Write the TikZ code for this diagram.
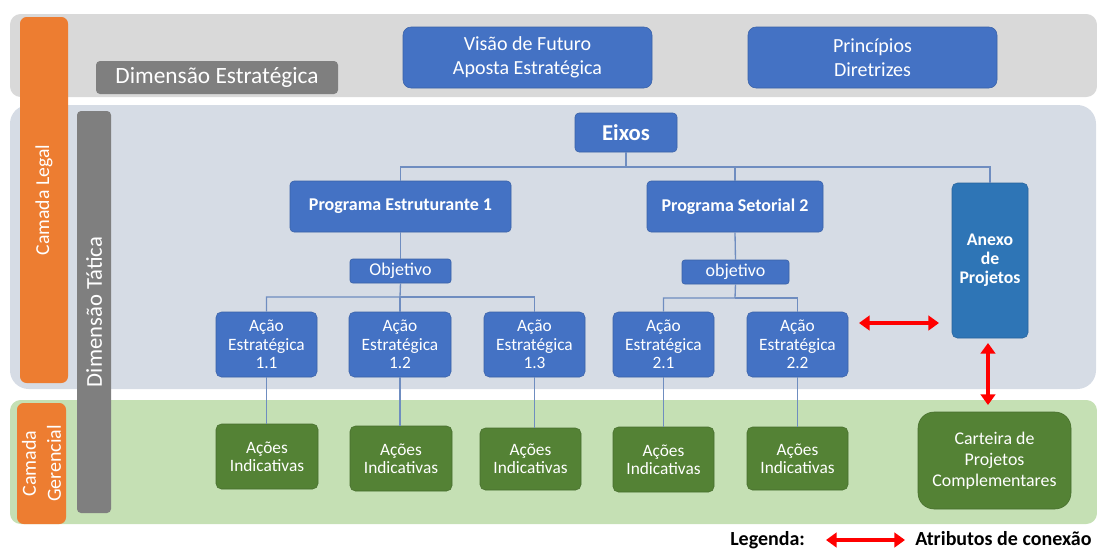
\documentclass[tikz,border=0pt]{standalone}
\usepackage{fontspec}
\setmainfont{Carlito}
\usetikzlibrary{fit,arrows.meta}
\definecolor{bandgray}{HTML}{D9D9D9}
\definecolor{bandblue}{HTML}{D6DCE5}
\definecolor{bandgreen}{HTML}{C5E0B4}
\definecolor{boxblue}{HTML}{4472C4}
\definecolor{anexoblue}{HTML}{2E75B6}
\definecolor{boxgreen}{HTML}{548235}
\definecolor{labgray}{HTML}{7F7F7F}
\definecolor{laborange}{HTML}{ED7D31}
\definecolor{linecol}{HTML}{6F8DC0}
\tikzset{
  x=0.75pt, y=-0.75pt,
  bbox/.style={fill=boxblue, draw=boxblue!85!black, line width=0.4pt, rounded corners=3pt, inner sep=0pt, text=white, align=center},
  gbox/.style={fill=boxgreen, draw=boxgreen!85!black, line width=0.4pt, rounded corners=3pt, inner sep=0pt, text=white, align=center},
  lab/.style={fill=labgray, rounded corners=3pt, inner sep=0pt, text=white, align=center},
  olab/.style={fill=laborange, rounded corners=5pt, inner sep=0pt, text=white, align=center},
  conn/.style={draw=linecol, line width=1pt},
  redarrow/.style={draw=red, line width=3.5pt, {Triangle[length=8pt,width=11pt]}-{Triangle[length=8pt,width=11pt]}},
  acao/.style={font=\fontsize{13}{14}\selectfont},
}
\begin{document}
\begin{tikzpicture}
\useasboundingbox (0,0) rectangle (1097,551);
% bands
\fill[bandgray, rounded corners=8pt] (10,14) rectangle (1097,97);
\fill[bandblue, rounded corners=14pt] (10,105) rectangle (1096,389);
\fill[bandgreen, rounded corners=8pt] (10,400) rectangle (1097,524);
% side labels
\node[olab, rotate=90, minimum width=366*0.75pt, minimum height=48*0.75pt, font=\fontsize{14.8}{17}\selectfont] (legal) at (44,200) {Camada Legal};
\node[olab, rotate=90, minimum width=121*0.75pt, minimum height=49*0.75pt, font=\fontsize{15}{18.75}\selectfont] (geren) at (41.5,463.5) {Camada\\Gerencial};
\node[lab, rotate=90, minimum width=402*0.75pt, minimum height=34*0.75pt, font=\fontsize{17}{20}\selectfont] (tatica) at (94,312) {Dimensão Tática};
\node[lab, fit={(96,61) (338,94)}] (estr) {};
\node[text=white, font=\fontsize{17.5}{20}\selectfont] at (estr.center) {Dimensão Estratégica};
% top boxes
\node[bbox, rounded corners=6pt, fit={(403,27) (652,88)}] (visao) {};
\node[text=white, align=center, font=\fontsize{15}{18}\selectfont] at (visao.center) {Visão de Futuro\\Aposta Estratégica};
\node[bbox, rounded corners=6pt, fit={(748,27) (997,88)}] (princ) {};
\node[text=white, align=center, font=\fontsize{15}{18}\selectfont] at (princ.center) {Princípios\\Diretrizes};
% tactical tree
\node[bbox, fit={(575,113) (677,152)}] (eixos) {};
\node[text=white, font=\bfseries\fontsize{17}{20}\selectfont] at (eixos.center) {Eixos};
\node[bbox, fit={(290,181) (511,232)}] (p1) {};
\node[text=white, font=\bfseries\fontsize{13.5}{16}\selectfont] at (p1.center) {Programa Estruturante 1};
\node[bbox, fit={(647,181) (823,232)}] (p2) {};
\node[text=white, font=\bfseries\fontsize{13.5}{16}\selectfont] at (p2.center) {Programa Setorial 2};
\node[fill=anexoblue, draw=anexoblue!85!black, line width=0.4pt, rounded corners=4pt, inner sep=0pt, fit={(952,183) (1028,338)}] (anexo) {};
\node[text=white, align=center, font=\bfseries\fontsize{13.3}{14.2}\selectfont] at (990,260) {Anexo\\de\\Projetos};
\node[bbox, rounded corners=2pt, fit={(350,259) (451,283)}] (obj1) {};
\node[text=white, font=\fontsize{13.5}{16}\selectfont] at (obj1.center) {Objetivo};
\node[bbox, rounded corners=2pt, fit={(682,260) (789,284)}] (obj2) {};
\node[text=white, font=\fontsize{13.5}{16}\selectfont] at (obj2.center) {objetivo};
% acoes estrategicas
\foreach \n/\xa/\xb/\t in {a11/216/317/1.1, a12/349/451/1.2, a13/484/585/1.3, a21/613/714/2.1, a22/747/848/2.2}{
  \node[bbox, rounded corners=4pt, fit={(\xa,312) (\xb,377)}] (\n) {};
  \node[text=white, align=center, acao] at (\n.center) {Ação\\Estratégica\\\t};
}
% acoes indicativas
\foreach \n/\xa/\xb/\ya/\yb in {i11/216/318/424/489, i12/350/452/426/491, i13/480/581/428/490, i21/613/714/427/492, i22/747/848/427/490}{
  \node[gbox, rounded corners=4pt, fit={(\xa,\ya) (\xb,\yb)}] (\n) {};
  \node[text=white, align=center, font=\fontsize{13}{13.8}\selectfont] at (\n.center) {Ações\\Indicativas};
}
\node[gbox, rounded corners=12pt, fit={(918,412) (1071,509)}] (cart) {};
\node[text=white, align=center, font=\fontsize{13.4}{15.75}\selectfont] at (cart.center) {Carteira de\\Projetos\\Complementares};
% connectors
\coordinate (busE) at (626,167);
\draw[conn] (eixos.south) -- (busE) -| (p1.north);
\draw[conn] (busE) -| (p2.north);
\draw[conn] (busE) -| (anexo.north);
\draw[conn] (p1.south) -- (obj1.north);
\draw[conn] (p2.south) -- (obj2.north);
\coordinate (bus1) at (400,297);
\draw[conn] (obj1.south) -- (bus1) -| (a11.north);
\draw[conn] (bus1) -- (a12.north);
\draw[conn] (bus1) -| (a13.north);
\coordinate (bus2) at (735,298);
\draw[conn] (obj2.south) -- (bus2) -| (a21.north);
\draw[conn] (bus2) -| (a22.north);
\draw[conn] (a11.south) -- (a11.south |- i11.north);
\draw[conn] (a12.south) -- (a12.south |- i12.north);
\draw[conn] (a13.south) -- (a13.south |- i13.north);
\draw[conn] (a21.south) -- (a21.south |- i21.north);
\draw[conn] (a22.south) -- (a22.south |- i22.north);
% red connection arrows
\coordinate (ra1) at (859,323);
\coordinate (ra2) at (939,323);
\draw[redarrow] (ra1) -- (ra2);
\coordinate (rv1) at (988,343);
\coordinate (rv2) at (988,405);
\draw[redarrow] (rv1) -- (rv2);
% legend
\node[anchor=base west, font=\bfseries\fontsize{15}{17}\selectfont, inner sep=0pt] (leg) at (730,545) {Legenda:};
\coordinate (la1) at (826,540);
\coordinate (la2) at (905,540);
\draw[redarrow] (la1) -- (la2);
\node[anchor=base west, font=\bfseries\fontsize{15}{17}\selectfont, inner sep=0pt] (attr) at (915,545) {Atributos de conexão};
\end{tikzpicture}
\end{document}
